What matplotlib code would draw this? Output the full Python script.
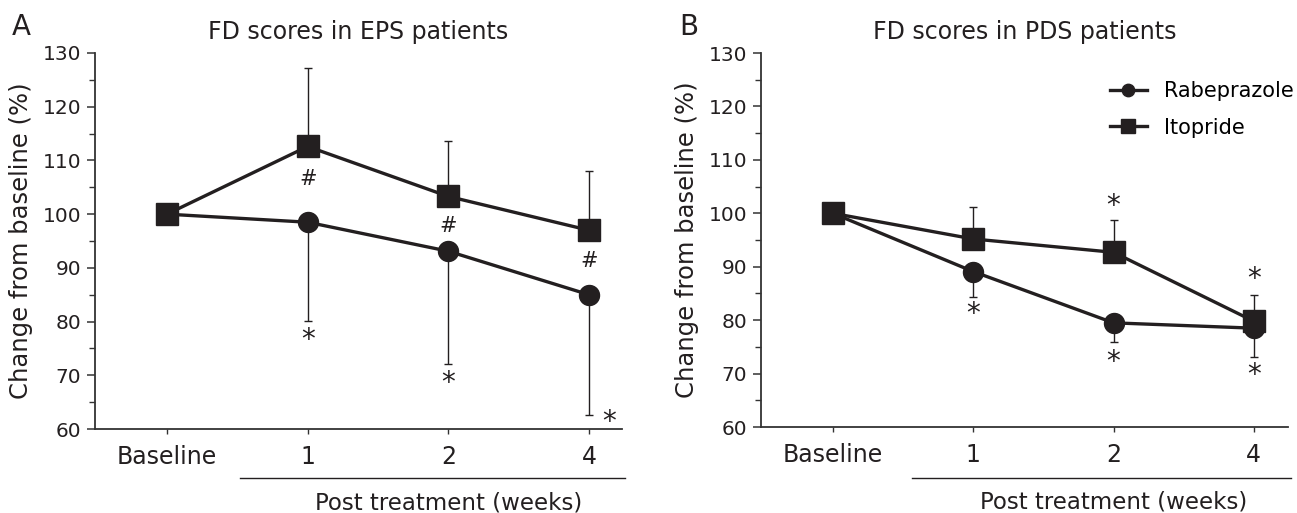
import matplotlib
matplotlib.use("Agg")
import matplotlib.pyplot as plt
from matplotlib.lines import Line2D
from matplotlib.ticker import MultipleLocator
import matplotlib.transforms as mtransforms

plt.rcParams['font.family'] = ['DejaVu Sans']

categories = ["Baseline", "1", "2", "4"]

# Panel A: EPS patients
eps_rabe = [100, 98.5, 93.1, 85.0]
eps_rabe_err_low = [0, 18.4, 21.0, 22.3]
eps_ito = [100, 112.6, 103.3, 97.0]
eps_ito_err_up = [0, 14.6, 10.3, 11.1]

# Panel B: PDS patients
pds_rabe = [100, 89.1, 79.5, 78.5]
pds_rabe_err_low = [0, 4.7, 3.5, 5.4]
pds_ito = [100, 95.2, 92.7, 79.8]
pds_ito_err_up = [0, 6.0, 6.0, 5.0]

# annotations: (x index, y value, symbol, x offset)
eps_marks = [(1, 106.6, "#", 0), (2, 97.8, "#", 0), (3, 91.3, "#", 0),
             (1, 76.6, "*", 0), (2, 68.6, "*", 0), (3, 61.4, "*", 0.14)]
pds_marks = [(1, 81.2, "*", 0), (2, 101.4, "*", 0), (2, 72.2, "*", 0),
             (3, 87.7, "*", 0), (3, 69.7, "*", 0)]

C = "#231f20"

fig = plt.figure(figsize=(12.97, 5.13), dpi=100)
axA = fig.add_axes([0.0732, 0.1637, 0.4063, 0.733])
axB = fig.add_axes([0.5867, 0.1676, 0.4063, 0.7290])

def draw(ax, rabe, rlow, ito, iup, marks, title, xmin, xmax, line_x0, ly, ty):
    x = list(range(len(categories)))
    ax.errorbar(x[1:], ito[1:], yerr=[[0]*3, iup[1:]], fmt='none', ecolor=C,
                elinewidth=1.0, capsize=2.6, capthick=1.0, zorder=1)
    ax.errorbar(x[1:], rabe[1:], yerr=[rlow[1:], [0]*3], fmt='none', ecolor=C,
                elinewidth=1.0, capsize=2.6, capthick=1.0, zorder=1)
    ax.plot(x, rabe, '-o', color=C, lw=2.4, ms=14.4, zorder=3, label="Rabeprazole")
    ax.plot(x, ito, '-s', color=C, lw=2.4, ms=15.8, zorder=4, label="Itopride")
    for xi, yv, s, dx in marks:
        if s == "*":
            ax.text(xi + dx, yv, s, ha='center', va='center', fontsize=20, color=C)
        else:
            ax.text(xi + dx, yv, s, ha='center', va='center', fontsize=15, color=C)
    ax.set_xlim(xmin, xmax)
    ax.set_ylim(60, 130)
    ax.set_xticks(x)
    ax.set_xticklabels(categories)
    ax.yaxis.set_major_locator(MultipleLocator(10))
    ax.yaxis.set_minor_locator(MultipleLocator(5))
    for s in ['top', 'right']:
        ax.spines[s].set_visible(False)
    for s in ['left', 'bottom']:
        ax.spines[s].set_color("#333333")
        ax.spines[s].set_linewidth(1.3)
    ax.tick_params(axis='y', which='major', length=6, width=1.1, labelsize=14.5,
                   pad=4, colors="#333333", labelcolor=C)
    ax.tick_params(axis='y', which='minor', length=4, width=1.0, colors="#333333")
    ax.tick_params(axis='x', which='major', length=3.5, width=1.0, labelsize=17,
                   pad=8, colors="#333333", labelcolor=C)
    ax.set_ylabel("Change from baseline (%)", fontsize=17.5, color=C)
    ax.yaxis.set_label_coords(-0.118, 0.5)
    ax.set_title(title, fontsize=17, color=C, pad=10)
    trans = mtransforms.blended_transform_factory(ax.transData, ax.transAxes)
    ax.add_line(Line2D([line_x0, xmax + 0.02], [ly, ly], transform=trans,
                       color=C, lw=1.0, clip_on=False))
    ax.text(2.0, ty, "Post treatment (weeks)", transform=trans,
            ha='center', va='center', fontsize=16.5, color=C)

draw(axA, eps_rabe, eps_rabe_err_low, eps_ito, eps_ito_err_up, eps_marks,
     "FD scores in EPS patients", -0.512, 3.234, 0.519, -0.130, -0.196)
draw(axB, pds_rabe, pds_rabe_err_low, pds_ito, pds_ito_err_up, pds_marks,
     "FD scores in PDS patients", -0.513, 3.243, 0.563, -0.136, -0.200)

axB.legend(loc='upper left', bbox_to_anchor=(0.662, 0.925), frameon=False,
           fontsize=15, handlelength=1.78, markerscale=0.62, labelspacing=0.8,
           handletextpad=0.8, borderpad=0, borderaxespad=0)

fig.text(0.009, 0.947, "A", fontsize=20, color=C, va='center')
fig.text(0.524, 0.947, "B", fontsize=20, color=C, va='center')

fig.savefig("out.png", dpi=100)
